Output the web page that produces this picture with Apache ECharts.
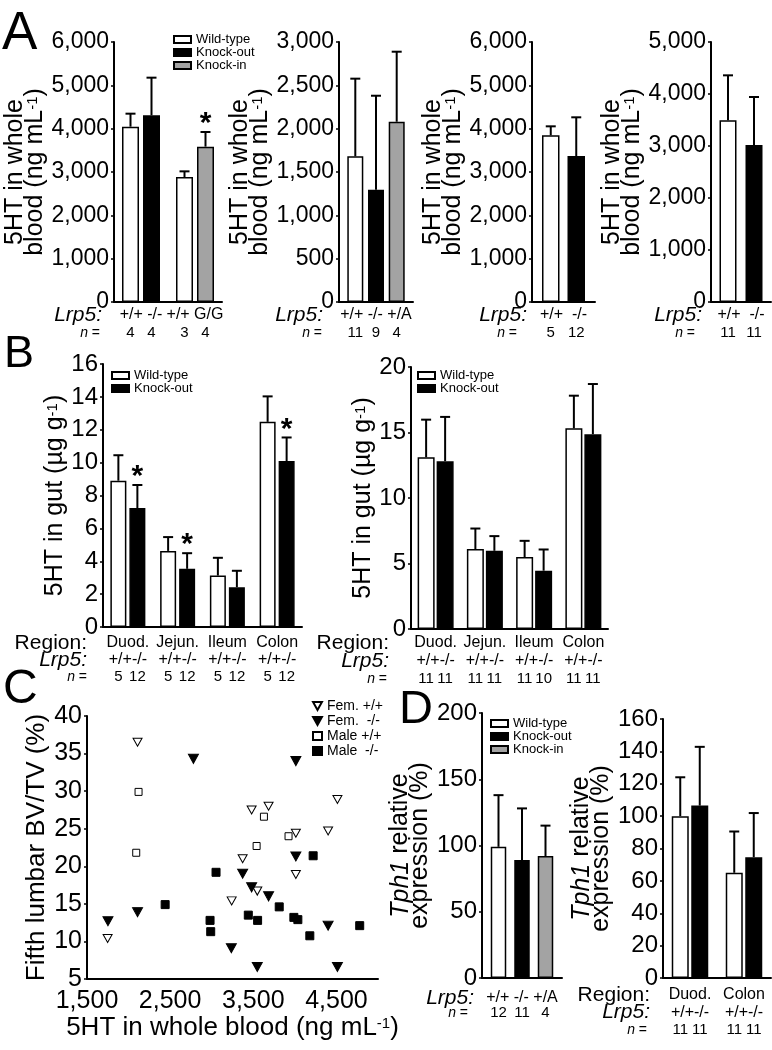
<!DOCTYPE html>
<html><head><meta charset="utf-8">
<script src="https://cdn.jsdelivr.net/npm/echarts@6/dist/echarts.min.js"></script>
<style>html,body{margin:0;padding:0;background:#fff}#c{width:772px;height:1050px}</style>
</head><body><div id="c"></div>
<script>
const FONT = "'Liberation Sans', Arial, sans-serif";
const BLACK = '#000', WHITE = '#fff', GREY = '#a3a3a3';

// ===== Panel A : 5HT in whole blood (ng/mL) =====
const A1_CATS = ['Exp. 1', 'Exp. 2'];
const A1_GENO = [['+/+', '-/-'], ['+/+', 'G/G']];
const A1_N = [[4, 4], [3, 4]];
const A1_WT = [4046, 2885];
const A1_WT_ERR = [300, 130];
const A1_KO = [4308, null];
const A1_KO_ERR = [869, null];
const A1_KI = [null, 3585];
const A1_KI_ERR = [null, 338];
const A1_KI_SIG = [false, true];

const A2_CATS = ['Exp. 3'];
const A2_GENO = [['+/+', '-/-', '+/A']];
const A2_N = [[11, 9, 4]];
const A2_WT = [1681], A2_WT_ERR = [896];
const A2_KO = [1296], A2_KO_ERR = [1084];
const A2_KI = [2080], A2_KI_ERR = [808];

const A3_CATS = ['Exp. 4'];
const A3_GENO = [['+/+', '-/-']];
const A3_N = [[5, 12]];
const A3_WT = [3846], A3_WT_ERR = [208];
const A3_KO = [3369], A3_KO_ERR = [893];

const A4_CATS = ['Exp. 5'];
const A4_GENO = [['+/+', '-/-']];
const A4_N = [[11, 11]];
const A4_WT = [3494], A4_WT_ERR = [865];
const A4_KO = [3019], A4_KO_ERR = [923];

// ===== Panel B : 5HT in gut (ug/g) =====
const B_REGIONS = ['Duod.', 'Jejun.', 'Ileum', 'Colon'];
const B_GENO = [['+/+', '-/-'], ['+/+', '-/-'], ['+/+', '-/-'], ['+/+', '-/-']];
const B1_N = [[5, 12], [5, 12], [5, 12], [5, 12]];
const B1_WT = [8.90, 4.63, 3.13, 12.48];
const B1_WT_ERR = [1.55, 0.84, 1.08, 1.55];
const B1_KO = [7.24, 3.54, 2.42, 10.10];
const B1_KO_ERR = [1.40, 0.95, 1.00, 1.43];
const B1_KO_SIG = [true, true, false, true];

const B2_N = [[11, 11], [11, 11], [11, 10], [11, 11]];
const B2_WT = [13.11, 6.10, 5.49, 15.32];
const B2_WT_ERR = [2.87, 1.57, 1.24, 2.49];
const B2_KO = [12.81, 5.97, 4.45, 14.87];
const B2_KO_ERR = [3.38, 1.12, 1.62, 3.83];

// ===== Panel C : BV/TV vs blood 5HT =====
const C_FEM_WT = [[1748, 10.4], [2108, 36.5], [3240, 15.4], [3372, 21.0], [3480, 27.5], [3548, 16.7], [3684, 28.0], [4012, 24.4], [4012, 18.9], [4400, 24.7], [4512, 28.9]];
const C_FEM_KO = [[1752, 12.7], [2108, 13.9], [2780, 34.3], [3236, 9.1], [3372, 19.0], [3480, 17.2], [3548, 6.6], [3684, 16.0], [4012, 34.0], [4012, 21.3], [4400, 12.1], [4512, 6.6]];
const C_MALE_WT = [[2092, 21.8], [2120, 29.9], [3540, 22.7], [3628, 26.6], [3924, 24.0]];
const C_MALE_KO = [[2440, 14.9], [2980, 12.8], [2988, 11.3], [3052, 19.2], [3440, 13.5], [3552, 12.8], [3812, 14.6], [3988, 13.2], [4036, 12.9], [4180, 10.75], [4220, 21.4], [4780, 12.1]];

// ===== Panel D : Tph1 relative expression (%) =====
const D1_CATS = ['Duod.'];
const D1_GENO = [['+/+', '-/-', '+/A']];
const D1_N = [[12, 11, 4]];
const D1_WT = [99], D1_WT_ERR = [39];
const D1_KO = [89], D1_KO_ERR = [39];
const D1_KI = [92], D1_KI_ERR = [23];

const D2_REGIONS = ['Duod.', 'Colon'];
const D2_GENO = [['+/+', '-/-'], ['+/+', '-/-']];
const D2_N = [[11, 11], [11, 11]];
const D2_WT = [100, 65], D2_WT_ERR = [24, 25.5];
const D2_KO = [106.5, 74.6], D2_KO_ERR = [36.3, 27.3];

// ------------------------------------------------------------------
function fmtThousands(v) { return String(v).replace(/\B(?=(\d{3})+(?!\d))/g, ','); }

const option = {
  animation: false,
  backgroundColor: '#fff',
  textStyle: { fontFamily: FONT, color: BLACK },
  grid: [], xAxis: [], yAxis: [], series: [], legend: [], graphic: []
};

const NAME_RICH = {
  sup: { fontSize: 15, verticalAlign: 'top', lineHeight: 20, fontFamily: FONT, color: BLACK },
  it: { fontSize: 25, fontStyle: 'italic', lineHeight: 20, fontFamily: FONT, color: BLACK }
};

function errRender(slotW, nSlots) {
  return function (params, api) {
    const c = api.value(0), v = api.value(1), e = api.value(2), s = api.value(3), sig = api.value(4);
    const off = (s - (nSlots - 1) / 2) * slotW;
    const p0 = api.coord([c, v]);
    const p1 = api.coord([c, v + e]);
    const x = p0[0] + off;
    const ch = [
      { type: 'line', shape: { x1: x, y1: p0[1], x2: x, y2: p1[1] }, style: { stroke: BLACK, lineWidth: 2 } },
      { type: 'line', shape: { x1: x - 5, y1: p1[1], x2: x + 5, y2: p1[1] }, style: { stroke: BLACK, lineWidth: 2 } }
    ];
    if (sig) {
      ch.push({ type: 'text', x: x, y: p1[1] - 8,
        style: { text: '*', fontSize: 30, fontWeight: 'bold', fontFamily: FONT, fill: BLACK, align: 'center', verticalAlign: 'middle' } });
    }
    return { type: 'group', children: ch };
  };
}

function addBarPanel(c) {
  const i = option.grid.length;
  option.grid.push({ left: c.grid[0], top: c.grid[1], width: c.grid[2], height: c.grid[3] });
  const slotW = c.bw + c.gap;
  const lh = c.lh;
  const labels = c.cats.map((_, k) => {
    const rows = [];
    if (c.region) rows.push('{r|' + c.region[k] + '}');
    rows.push('{g|' + c.geno[k].join(c.genoSep) + '}');
    rows.push(c.n[k].map(v => '{n|' + v + '}').join(''));
    return rows.join('\n');
  });
  option.xAxis.push({
    type: 'category', gridIndex: i, data: c.cats,
    axisLine: { lineStyle: { color: BLACK, width: 2 } }, axisTick: { show: false },
    axisLabel: {
      interval: 0, margin: c.labelMargin, color: BLACK,
      formatter: (v, k) => labels[k],
      rich: {
        r: { fontSize: 16, lineHeight: lh, align: 'center', color: BLACK, fontFamily: FONT },
        g: { fontSize: c.genoFont, lineHeight: lh, align: 'center', color: BLACK, fontFamily: FONT },
        n: { fontSize: 15, lineHeight: lh, width: slotW, align: 'center', color: BLACK, fontFamily: FONT }
      }
    }
  });
  option.yAxis.push({
    type: 'value', gridIndex: i, min: c.y[0], max: c.y[1], interval: c.y[2],
    axisLine: { show: true, lineStyle: { color: BLACK, width: 2 } },
    axisTick: { show: true, length: 3, lineStyle: { color: BLACK, width: 1.5 } },
    splitLine: { show: false },
    axisLabel: { color: BLACK, fontSize: c.tickFont || 23, margin: 5, formatter: v => fmtThousands(v) },
    name: c.yName, nameLocation: 'middle', nameRotate: 90, nameGap: c.nameGap,
    nameTextStyle: { color: BLACK, fontSize: c.nameFont || 25, lineHeight: 20, fontFamily: FONT, rich: NAME_RICH }
  });
  const errData = [];
  c.series.forEach(s => {
    option.series.push({
      type: 'bar', name: s.name, xAxisIndex: i, yAxisIndex: i, stack: 'p' + i + 's' + s.slot,
      barWidth: c.bw, barGap: (c.gap / c.bw * 100) + '%',
      data: s.values.map(v => (v == null ? '-' : v)),
      itemStyle: { color: s.color, borderColor: BLACK, borderWidth: 1.5 },
      silent: true
    });
    s.values.forEach((v, k) => {
      if (v != null) errData.push([k, v, s.errs[k], s.slot, s.sig && s.sig[k] ? 1 : 0]);
    });
  });
  option.series.push({
    type: 'custom', xAxisIndex: i, yAxisIndex: i, renderItem: errRender(slotW, c.nSlots),
    data: errData, silent: true, z: 5, clip: false
  });
  if (c.legend) {
    option.legend.push({
      data: c.legend.names, left: c.legend.left, top: c.legend.top, orient: 'vertical',
      itemWidth: 17, itemHeight: 7, itemGap: 0, icon: 'rect', padding: 0, selectedMode: false,
      textStyle: { fontSize: 13, lineHeight: 12, color: BLACK, fontFamily: FONT }
    });
  }
}

const WT = 'Wild-type', KO = 'Knock-out', KI = 'Knock-in';
const A_NAME = '5HT in whole\nblood (ng mL{sup|-1})';

addBarPanel({ grid: [114, 42, 108, 260], cats: A1_CATS, geno: A1_GENO, genoSep: ' ', genoFont: 16, n: A1_N, bw: 17, gap: 4, nSlots: 2, lh: 18, labelMargin: 4,
  y: [0, 6000, 1000], yName: A_NAME, nameGap: 67,
  series: [
    { name: WT, color: WHITE, slot: 0, values: A1_WT, errs: A1_WT_ERR },
    { name: KO, color: BLACK, slot: 1, values: A1_KO, errs: A1_KO_ERR },
    { name: KI, color: GREY, slot: 1, values: A1_KI, errs: A1_KI_ERR, sig: A1_KI_SIG }
  ],
  legend: { names: [WT, KO, KI], left: 173, top: 33 } });

addBarPanel({ grid: [339, 42, 74, 260], cats: A2_CATS, geno: A2_GENO, genoSep: ' ', genoFont: 16, n: A2_N, bw: 16, gap: 4.7, nSlots: 3, lh: 18, labelMargin: 4,
  y: [0, 3000, 500], yName: A_NAME, nameGap: 67,
  series: [
    { name: WT, color: WHITE, slot: 0, values: A2_WT, errs: A2_WT_ERR },
    { name: KO, color: BLACK, slot: 1, values: A2_KO, errs: A2_KO_ERR },
    { name: KI, color: GREY, slot: 2, values: A2_KI, errs: A2_KI_ERR }
  ] });

addBarPanel({ grid: [532, 42, 63, 260], cats: A3_CATS, geno: A3_GENO, genoSep: '  ', genoFont: 16, n: A3_N, bw: 17.5, gap: 8, nSlots: 2, lh: 18, labelMargin: 4,
  y: [0, 6000, 1000], yName: A_NAME, nameGap: 68,
  series: [
    { name: WT, color: WHITE, slot: 0, values: A3_WT, errs: A3_WT_ERR },
    { name: KO, color: BLACK, slot: 1, values: A3_KO, errs: A3_KO_ERR }
  ] });

addBarPanel({ grid: [711, 42, 60, 260], cats: A4_CATS, geno: A4_GENO, genoSep: '  ', genoFont: 16, n: A4_N, bw: 17, gap: 9, nSlots: 2, lh: 18, labelMargin: 4,
  y: [0, 5000, 1000], yName: A_NAME, nameGap: 67,
  series: [
    { name: WT, color: WHITE, slot: 0, values: A4_WT, errs: A4_WT_ERR },
    { name: KO, color: BLACK, slot: 1, values: A4_KO, errs: A4_KO_ERR }
  ] });

const B_NAME = '5HT in gut (\u00b5g g{sup|-1})';
addBarPanel({ grid: [103, 364, 199, 263], cats: B_REGIONS, region: B_REGIONS, geno: B_GENO, genoSep: '', genoFont: 16, n: B1_N, bw: 16, gap: 3, nSlots: 2, lh: 17, labelMargin: 7,
  y: [0, 16, 2], yName: B_NAME, nameGap: 36, tickFont: 24,
  series: [
    { name: WT, color: WHITE, slot: 0, values: B1_WT, errs: B1_WT_ERR },
    { name: KO, color: BLACK, slot: 1, values: B1_KO, errs: B1_KO_ERR, sig: B1_KO_SIG }
  ],
  legend: { names: [WT, KO], left: 111, top: 369 } });

addBarPanel({ grid: [411, 367, 197, 262], cats: B_REGIONS, region: B_REGIONS, geno: B_GENO, genoSep: '', genoFont: 16, n: B2_N, bw: 17, gap: 2, nSlots: 2, lh: 18, labelMargin: 5,
  y: [0, 20, 5], yName: B_NAME, nameGap: 36, tickFont: 24,
  series: [
    { name: WT, color: WHITE, slot: 0, values: B2_WT, errs: B2_WT_ERR },
    { name: KO, color: BLACK, slot: 1, values: B2_KO, errs: B2_KO_ERR }
  ],
  legend: { names: [WT, KO], left: 417, top: 369 } });

const D_NAME = '{it|Tph1} relative\nexpression (%)';
addBarPanel({ grid: [482, 713, 80, 265], cats: D1_CATS, geno: D1_GENO, genoSep: ' ', genoFont: 16, n: D1_N, bw: 15.5, gap: 8, nSlots: 3, lh: 15, labelMargin: 12,
  y: [0, 200, 50], yName: D_NAME, nameGap: 48, tickFont: 24,
  series: [
    { name: WT, color: WHITE, slot: 0, values: D1_WT, errs: D1_WT_ERR },
    { name: KO, color: BLACK, slot: 1, values: D1_KO, errs: D1_KO_ERR },
    { name: KI, color: GREY, slot: 2, values: D1_KI, errs: D1_KI_ERR }
  ],
  legend: { names: [WT, KO, KI], left: 490, top: 717 } });

addBarPanel({ grid: [663, 719, 108, 259], cats: D2_REGIONS, region: D2_REGIONS, geno: D2_GENO, genoSep: '', genoFont: 16, n: D2_N, bw: 17, gap: 2.5, nSlots: 2, lh: 17.5, labelMargin: 8,
  y: [0, 160, 20], yName: D_NAME, nameGap: 45, tickFont: 24,
  series: [
    { name: WT, color: WHITE, slot: 0, values: D2_WT, errs: D2_WT_ERR },
    { name: KO, color: BLACK, slot: 1, values: D2_KO, errs: D2_KO_ERR }
  ] });

// ---- Panel C scatter ----
(function () {
  const i = option.grid.length;
  option.grid.push({ left: 87, top: 716, width: 291, height: 263 });
  option.xAxis.push({
    type: 'value', gridIndex: i, min: 1500, max: 5000, interval: 1000,
    axisLine: { lineStyle: { color: BLACK, width: 2 } }, axisTick: { show: false }, splitLine: { show: false },
    axisLabel: { color: BLACK, fontSize: 25, margin: 10, showMaxLabel: false, formatter: v => fmtThousands(v) },
    name: '5HT in whole blood (ng mL{sup|-1})', nameLocation: 'middle', nameGap: 37,
    nameTextStyle: { color: BLACK, fontSize: 26, lineHeight: 24, fontFamily: FONT, rich: { sup: { fontSize: 15, verticalAlign: 'top', lineHeight: 24, color: BLACK } } }
  });
  option.yAxis.push({
    type: 'value', gridIndex: i, min: 5, max: 40, interval: 5,
    axisLine: { show: true, lineStyle: { color: BLACK, width: 2 } },
    axisTick: { show: true, length: 3, lineStyle: { color: BLACK, width: 1.5 } }, splitLine: { show: false },
    axisLabel: { color: BLACK, fontSize: 25, margin: 5 },
    name: 'Fifth lumbar BV/TV (%)', nameLocation: 'middle', nameRotate: 90, nameGap: 34,
    nameTextStyle: { color: BLACK, fontSize: 26, fontFamily: FONT }
  });
  const TRI = 'path://M0,0L10,0L5,9Z';
  const sets = [
    { name: 'Fem. +/+', data: C_FEM_WT, symbol: TRI, size: [9, 8], fill: WHITE },
    { name: 'Fem.  -/-', data: C_FEM_KO, symbol: TRI, size: [10, 9], fill: BLACK },
    { name: 'Male +/+', data: C_MALE_WT, symbol: 'rect', size: [7, 7], fill: WHITE },
    { name: 'Male  -/-', data: C_MALE_KO, symbol: 'rect', size: [8, 8], fill: BLACK }
  ];
  sets.forEach(s => option.series.push({
    type: 'scatter', name: s.name, xAxisIndex: i, yAxisIndex: i, data: s.data,
    symbol: s.symbol, symbolSize: s.size, silent: true,
    itemStyle: { color: s.fill, borderColor: BLACK, borderWidth: 1, opacity: 1 }
  }));
  option.legend.push({
    data: sets.map(s => s.name), left: 312, top: 699, orient: 'vertical',
    itemWidth: 9, itemHeight: 8, itemGap: 1, padding: 0, selectedMode: false,
    textStyle: { fontSize: 14, lineHeight: 12, color: BLACK, fontFamily: FONT }
  });
})();

// ---- Static text: panel letters and row headers ----
function txt(text, x, y, size, opts) {
  opts = opts || {};
  option.graphic.push({
    type: 'text', x: x, y: y, silent: true,
    style: Object.assign({ text: text, fontSize: size, fontFamily: FONT, fill: BLACK,
      align: opts.align || 'right', verticalAlign: 'middle', fontStyle: opts.italic ? 'italic' : 'normal' }, opts.style || {})
  });
}
function nEq(x, y) {
  option.graphic.push({
    type: 'text', x: x, y: y, silent: true,
    style: { text: '{i|n} =', fontSize: 14, fontFamily: FONT, fill: BLACK, align: 'right', verticalAlign: 'middle',
      rich: { i: { fontStyle: 'italic', fontSize: 14, fontFamily: FONT, fill: BLACK } } }
  });
}
txt('A', 2, 34, 53, { align: 'left' });
txt('B', 4, 355, 45, { align: 'left' });
txt('C', 3, 690, 48, { align: 'left' });
txt('D', 399, 710, 47, { align: 'left' });

[[102, 100], [323, 322], [527, 517], [702, 695]].forEach(p => { txt('Lrp5:', p[0], 315, 21, { italic: true }); nEq(p[1], 333); });
txt('Region:', 87, 643, 21); txt('Lrp5:', 87, 660, 21, { italic: true }); nEq(87, 677);
txt('Region:', 389, 643, 21); txt('Lrp5:', 389, 661, 21, { italic: true }); nEq(387, 679);
txt('Lrp5:', 474, 998, 21, { italic: true }); nEq(468, 1013);
txt('Region:', 650, 995, 21); txt('Lrp5:', 650, 1012, 21, { italic: true }); nEq(647, 1030);

const chart = echarts.init(document.getElementById('c'), null, { renderer: 'canvas' });
chart.setOption(option);
</script>
</body></html>
